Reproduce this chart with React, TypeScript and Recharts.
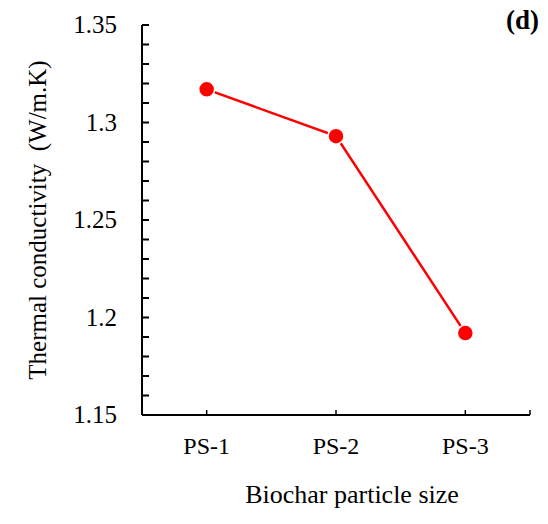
import { LineChart, Line, XAxis, YAxis } from 'recharts'

// Thermal conductivity vs biochar particle size, panel (d)
const sizes = ['PS-1', 'PS-2', 'PS-3']
const conductivity = [1.317, 1.293, 1.192]
const yMajor = [1.15, 1.2, 1.25, 1.3, 1.35]
const yTicks = [
  1.15, 1.16, 1.17, 1.18, 1.19, 1.2, 1.21, 1.22, 1.23, 1.24, 1.25,
  1.26, 1.27, 1.28, 1.29, 1.3, 1.31, 1.32, 1.33, 1.34, 1.35,
]

const data = sizes.map((s, i) => ({ size: s, k: conductivity[i] }))

const FONT = '"Liberation Serif", "Times New Roman", serif'

const isMajor = (v: number) => yMajor.some((m) => Math.abs(m - v) < 1e-6)

const YTick = (props: any) => {
  const { x, y, payload } = props
  const axisX = x + 10
  const v = payload.value
  return (
    <g>
      <line x1={axisX} x2={axisX + 7} y1={y} y2={y} stroke="#000" strokeWidth={2} />
      {isMajor(v) && (
        <text x={axisX - 25} y={y} dy={8} textAnchor="end" fontSize={25} fontFamily={FONT} fill="#000">
          {String(Number(v.toFixed(2)))}
        </text>
      )}
    </g>
  )
}

const XTick = (props: any) => {
  const { x, y, payload } = props
  const axisY = y - 10
  return (
    <g>
      <line x1={x} x2={x} y1={axisY} y2={axisY - 5} stroke="#000" strokeWidth={1.5} />
      <text x={x} y={axisY + 39} textAnchor="middle" fontSize={24} fontFamily={FONT} fill="#000">
        {payload.value}
      </text>
    </g>
  )
}

export default function App() {
  return (
    <div style={{ position: 'absolute', left: 0, top: 0, width: 548, height: 524, background: '#fff' }}>
      <LineChart width={548} height={524} data={data} margin={{ top: 25, right: 18, bottom: 79, left: 82 }}>
        <XAxis
          dataKey="size"
          height={30}
          padding={{ left: 64.67, right: 64.67 }}
          axisLine={{ stroke: '#000', strokeWidth: 2 }}
          tickLine={false}
          tickSize={0}
          tickMargin={10}
          tick={<XTick />}
          interval={0}
        />
        <YAxis
          width={60}
          domain={[1.15, 1.35]}
          ticks={yTicks}
          interval={0}
          axisLine={{ stroke: '#000', strokeWidth: 2 }}
          tickLine={false}
          tickSize={0}
          tickMargin={10}
          tick={<YTick />}
        />
        <Line
          dataKey="k"
          stroke="#ff0000"
          strokeWidth={2.5}
          dot={{ r: 8, fill: '#ff0000', stroke: '#fff', strokeWidth: 1.5 }}
          isAnimationActive={false}
        />
        <line x1={530} x2={530} y1={415} y2={410} stroke="#000" strokeWidth={1.5} />
        <text x={352} y={503} textAnchor="middle" fontSize={26} fontFamily={FONT} fill="#000">
          Biochar particle size
        </text>
        <text
          x={46}
          y={220}
          textAnchor="middle"
          fontSize={25}
          fontFamily={FONT}
          fill="#000"
          style={{ whiteSpace: 'pre' }}
          transform="rotate(-90 46 220)"
        >
          Thermal conductivity  (W/m.K)
        </text>
        <text x={539} y={29} textAnchor="end" fontSize={27} fontWeight="bold" fontFamily={FONT} fill="#000">
          (d)
        </text>
      </LineChart>
    </div>
  )
}
